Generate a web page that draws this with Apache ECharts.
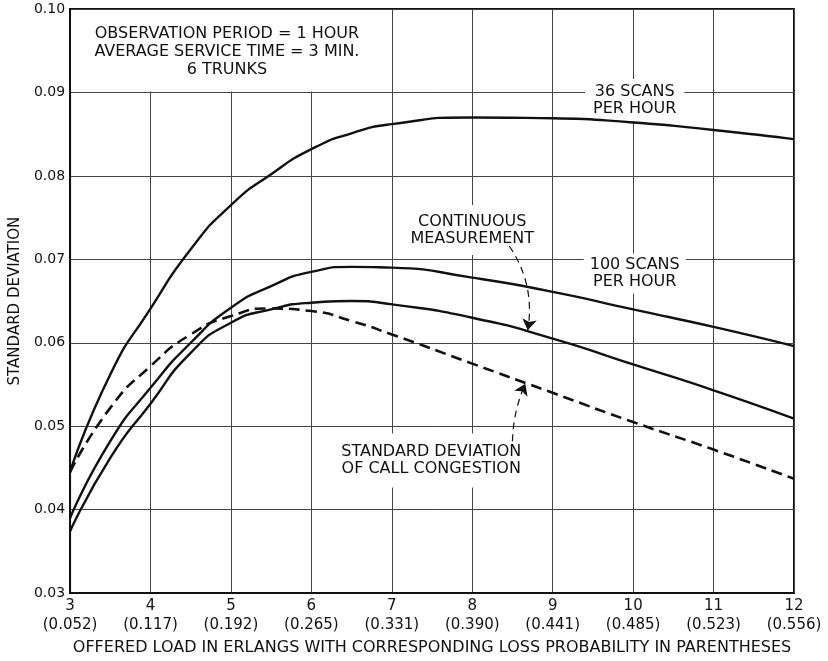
<!DOCTYPE html>
<html>
<head>
<meta charset="utf-8">
<title>Standard deviation vs offered load</title>
<script src="https://cdn.jsdelivr.net/npm/echarts@6/dist/echarts.min.js"></script>
<style>
  html, body { margin: 0; padding: 0; background: #fff; }
  #chart { width: 828px; height: 661px; }
</style>
</head>
<body>
<div id="chart"></div>
<script>
// x ticks: offered load in erlangs, loss probability printed under each one
const loadTicks = [3, 4, 5, 6, 7, 8, 9, 10, 11, 12];
const lossProb = ['0.052', '0.117', '0.192', '0.265', '0.331', '0.390', '0.441', '0.485', '0.523', '0.556'];

// values
const loadX      = [3, 3.5, 4, 4.5, 5, 5.5, 6, 6.5, 7, 8, 9, 10, 11, 12];
const scans36    = [0.0445, 0.0562, 0.0641, 0.0712, 0.0765, 0.0802, 0.0832, 0.0851, 0.0862, 0.0870, 0.0869, 0.0864, 0.0855, 0.0844];
const scans100   = [0.0390, 0.0482, 0.0546, 0.0600, 0.0642, 0.0668, 0.0685, 0.0691, 0.0690, 0.0678, 0.0661, 0.0640, 0.0619, 0.0596];
const continuous = [0.0374, 0.0462, 0.0527, 0.0588, 0.0624, 0.0640, 0.0648, 0.0650, 0.0646, 0.0630, 0.0605, 0.0574, 0.0543, 0.0509];
const congestion = [0.0445, 0.0522, 0.0572, 0.0610, 0.0632, 0.0641, 0.0638, 0.0626, 0.0610, 0.0575, 0.0540, 0.0505, 0.0472, 0.0437];

const FONT = 'DejaVu Sans';
const INK = '#111';

function pairs(ys) {
  return loadX.map((x, i) => [x, ys[i]]);
}

function curve(name, ys, dashed) {
  return {
    name: name,
    type: 'line',
    data: pairs(ys),
    smooth: 0.6,
    symbol: 'none',
    silent: true,
    lineStyle: {
      color: INK,
      width: dashed ? 2.6 : 2.4,
      type: dashed ? [11, 6] : 'solid'
    },
    z: 3
  };
}

const chart = echarts.init(document.getElementById('chart'));

let option = {
  backgroundColor: '#fff',
  animation: false,
  grid: {
    left: 68,
    right: 34,
    top: 9,
    bottom: 66,
    show: true,
    borderColor: INK,
    borderWidth: 2
  },
  xAxis: {
    type: 'value',
    min: 3,
    max: 12,
    interval: 1,
    name: 'OFFERED LOAD IN ERLANGS WITH CORRESPONDING LOSS PROBABILITY IN PARENTHESES',
    nameLocation: 'middle',
    nameGap: 46,
    nameTextStyle: { fontFamily: FONT, fontSize: 16, color: INK },
    axisLine: { show: true, lineStyle: { color: INK, width: 2 } },
    axisTick: { show: false },
    axisLabel: {
      margin: 4,
      fontFamily: FONT,
      fontSize: 15,
      lineHeight: 19,
      color: INK,
      formatter: function (v) {
        const i = loadTicks.indexOf(v);
        return i < 0 ? '' : v + '\n(' + lossProb[i] + ')';
      }
    },
    splitLine: { show: true, lineStyle: { color: '#444', width: 1 } }
  },
  yAxis: {
    type: 'value',
    min: 0.03,
    max: 0.10,
    interval: 0.01,
    name: 'STANDARD DEVIATION',
    nameLocation: 'middle',
    nameGap: 46,
    nameTextStyle: { fontFamily: FONT, fontSize: 15, color: INK },
    axisLine: { show: true, lineStyle: { color: INK, width: 2 } },
    axisTick: { show: false },
    axisLabel: {
      margin: 5,
      fontFamily: FONT,
      fontSize: 14,
      color: INK,
      formatter: v => v.toFixed(2)
    },
    splitLine: { show: true, lineStyle: { color: '#444', width: 1 } }
  },
  series: [
    curve('36 scans per hour', scans36, false),
    curve('100 scans per hour', scans100, false),
    curve('continuous measurement', continuous, false),
    curve('standard deviation of call congestion', congestion, true),
    {
      // the two dashed pointer arrows
      type: 'lines',
      coordinateSystem: 'cartesian2d',
      silent: true,
      symbol: ['none', 'arrow'],
      symbolSize: [7, 11],
      lineStyle: { color: INK, width: 1.2, type: [7, 5], curveness: 0.15, opacity: 1 },
      data: [
        { coords: [[8.46, 0.0716], [8.69, 0.0615]], lineStyle: { curveness: 0.2 } },
        { coords: [[8.50, 0.0482], [8.66, 0.0551]], lineStyle: { curveness: 0.1 } }
      ],
      z: 4
    }
  ]
};

chart.setOption(option);

// annotations, placed from data coordinates
function px(x, y) {
  return chart.convertToPixel({ gridIndex: 0 }, [x, y]);
}

function label(text, x, y, pad, lh) {
  const p = px(x, y);
  return {
    type: 'text',
    x: p[0],
    y: p[1],
    z: 1,
    silent: true,
    style: {
      text: text,
      fontFamily: FONT,
      fontSize: 16,
      lineHeight: lh || 17,
      fill: INK,
      align: 'center',
      verticalAlign: 'middle',
      backgroundColor: '#fff',
      padding: pad
    }
  };
}

const boxA = px(3, 0.10);
const boxB = px(6.8, 0.09);

chart.setOption({
  graphic: [
    {
      type: 'rect',
      silent: true,
      z: 1,
      shape: { x: boxA[0] + 1, y: boxA[1] + 1, width: boxB[0] - boxA[0], height: boxB[1] - boxA[1] - 2 },
      style: { fill: '#fff' }
    },
    label('OBSERVATION PERIOD = 1 HOUR\nAVERAGE SERVICE TIME = 3 MIN.\n6 TRUNKS', 4.95, 0.0949, [2, 4], 18),
    label('36 SCANS\nPER HOUR', 10.02, 0.0891, [6, 8, 2, 8]),
    label('100 SCANS\nPER HOUR', 10.02, 0.0683, [3, 6]),
    label('CONTINUOUS\nMEASUREMENT', 8.0, 0.0735, [8, 6]),
    label('STANDARD DEVIATION\nOF CALL CONGESTION', 7.49, 0.0459, [10, 6])
  ]
});
</script>
</body>
</html>
